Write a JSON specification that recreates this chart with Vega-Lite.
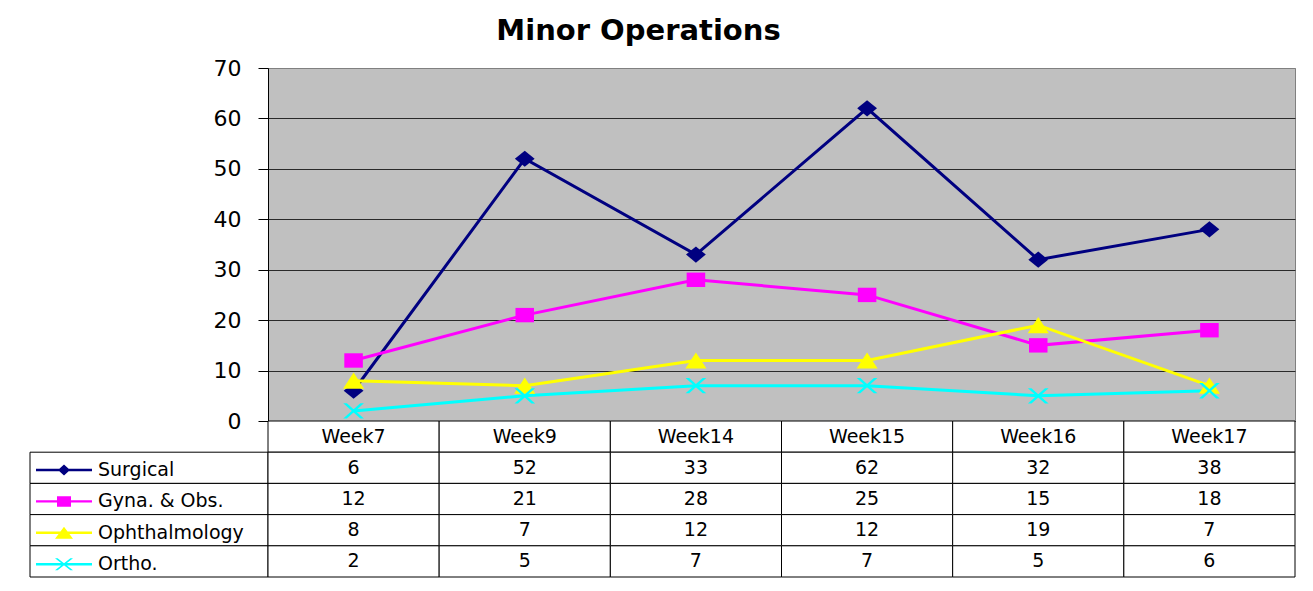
{
  "$schema": "https://vega.github.io/schema/vega-lite/v6.json",
  "padding": {"left": 29, "top": 16, "right": 19, "bottom": 14},
  "config": {
    "font": "DejaVu Sans",
    "view": {"stroke": null},
    "text": {"font": "DejaVu Sans", "color": "black"}
  },
  "title": {
    "text": "Minor Operations",
    "font": "DejaVu Sans",
    "fontSize": 29,
    "fontWeight": "bold",
    "color": "black",
    "anchor": "middle",
    "dx": -24,
    "offset": -18,
    "baseline": "bottom"
  },
  "datasets": {
    "ops": [
      {"series": "Surgical", "week": "Week7", "value": 6},
      {"series": "Surgical", "week": "Week9", "value": 52},
      {"series": "Surgical", "week": "Week14", "value": 33},
      {"series": "Surgical", "week": "Week15", "value": 62},
      {"series": "Surgical", "week": "Week16", "value": 32},
      {"series": "Surgical", "week": "Week17", "value": 38},
      {"series": "Gyna. & Obs.", "week": "Week7", "value": 12},
      {"series": "Gyna. & Obs.", "week": "Week9", "value": 21},
      {"series": "Gyna. & Obs.", "week": "Week14", "value": 28},
      {"series": "Gyna. & Obs.", "week": "Week15", "value": 25},
      {"series": "Gyna. & Obs.", "week": "Week16", "value": 15},
      {"series": "Gyna. & Obs.", "week": "Week17", "value": 18},
      {"series": "Ophthalmology", "week": "Week7", "value": 8},
      {"series": "Ophthalmology", "week": "Week9", "value": 7},
      {"series": "Ophthalmology", "week": "Week14", "value": 12},
      {"series": "Ophthalmology", "week": "Week15", "value": 12},
      {"series": "Ophthalmology", "week": "Week16", "value": 19},
      {"series": "Ophthalmology", "week": "Week17", "value": 7},
      {"series": "Ortho.", "week": "Week7", "value": 2},
      {"series": "Ortho.", "week": "Week9", "value": 5},
      {"series": "Ortho.", "week": "Week14", "value": 7},
      {"series": "Ortho.", "week": "Week15", "value": 7},
      {"series": "Ortho.", "week": "Week16", "value": 5},
      {"series": "Ortho.", "week": "Week17", "value": 6}
    ]
  },
  "columns": 2,
  "spacing": 0,
  "bounds": "flush",
  "resolve": {
    "scale": {"x": "independent", "y": "independent", "color": "independent", "shape": "independent"},
    "legend": {"color": "independent", "shape": "independent"}
  },
  "concat": [
    {
      "width": 238,
      "height": 353,
      "data": {"values": [{}]},
      "mark": {"type": "text"},
      "encoding": {"text": {"value": ""}}
    },
    {
      "width": 1027,
      "height": 353,
      "data": {"name": "ops"},
      "view": {"fill": "#C0C0C0", "stroke": "#808080"},
      "encoding": {
        "x": {
          "field": "week", "type": "nominal",
          "sort": ["Week7", "Week9", "Week14", "Week15", "Week16", "Week17"],
          "scale": {"type": "point", "padding": 0.5},
          "axis": null
        },
        "y": {
          "field": "value", "type": "quantitative",
          "scale": {"domain": [0, 70], "nice": false},
          "axis": {
            "title": null,
            "values": [0, 10, 20, 30, 40, 50, 60, 70],
            "tickSize": 10,
            "tickColor": "black",
            "domainColor": "black",
            "labelFont": "DejaVu Sans",
            "labelFontSize": 22,
            "labelColor": "black",
            "labelPadding": 17,
            "grid": true,
            "gridColor": {"condition": {"test": "datum.value == 70", "value": "#808080"}, "value": "#2a2a2a"},
            "gridOpacity": 1
          }
        },
        "color": {
          "field": "series", "type": "nominal",
          "scale": {
            "domain": ["Surgical", "Gyna. & Obs.", "Ophthalmology", "Ortho."],
            "range": ["#000080", "#FF00FF", "#FFFF00", "#00FFFF"]
          },
          "legend": null
        }
      },
      "layer": [
        {"mark": {"type": "line", "strokeWidth": 3}},
        {
          "mark": {"type": "point", "filled": true, "opacity": 1, "size": 324, "strokeWidth": 0},
          "encoding": {
            "shape": {
              "field": "series", "type": "nominal",
              "scale": {
                "domain": ["Surgical", "Gyna. & Obs.", "Ophthalmology", "Ortho."],
                "range": [
                  "M-1.1,0L0,-0.9L1.1,0L0,0.9Z",
                  "M-1.03,-0.8L1.03,-0.8L1.03,0.8L-1.03,0.8Z",
                  "M0,-0.9L1.17,0.9L-1.17,0.9Z",
                  "M-1.15,-0.85L-0.75,-0.85L1.15,0.85L0.75,0.85Z M0.75,-0.85L1.15,-0.85L-0.75,0.85L-1.15,0.85Z"
                ]
              },
              "legend": null
            }
          }
        }
      ]
    },
    {
      "width": 238,
      "height": 156,
      "data": {"name": "ops"},
      "layer": [
        {
          "transform": [{"filter": "datum.week == 'Week7'"}],
          "mark": {"type": "rect", "fill": "white", "stroke": "black", "strokeWidth": 1},
          "encoding": {
            "y": {
              "field": "series", "type": "nominal",
              "scale": {"domain": ["hdr", "Surgical", "Gyna. & Obs.", "Ophthalmology", "Ortho."], "paddingInner": 0, "paddingOuter": 0},
              "axis": null
            }
          }
        },
        {
          "transform": [{"filter": "datum.value < 0"}],
          "mark": {"type": "point", "filled": true, "opacity": 1},
          "encoding": {
            "y": {"field": "series", "type": "nominal"},
            "color": {
              "field": "series", "type": "nominal",
              "scale": {
                "domain": ["Surgical", "Gyna. & Obs.", "Ophthalmology", "Ortho."],
                "range": ["#000080", "#FF00FF", "#FFFF00", "#00FFFF"]
              },
              "legend": {
                "title": null,
                "orient": "none",
                "legendX": 24.5,
                "legendY": 39.5,
                "padding": 0,
                "symbolSize": 225,
                "symbolStrokeWidth": 0,
                "symbolOpacity": 1,
                "rowPadding": 11.4,
                "labelFont": "DejaVu Sans",
                "labelFontSize": 19,
                "labelColor": "black",
                "labelOffset": 24.5,
                "labelLimit": 300
              }
            },
            "shape": {
              "field": "series", "type": "nominal",
              "scale": {
                "domain": ["Surgical", "Gyna. & Obs.", "Ophthalmology", "Ortho."],
                "range": [
                  "M-3.733,-0.16L3.733,-0.16L3.733,0.16L-3.733,0.16Z M-0.8,0L0,-0.733L0.8,0L0,0.733Z",
                  "M-3.733,-0.16L3.733,-0.16L3.733,0.16L-3.733,0.16Z M-0.933,-0.7L0.933,-0.7L0.933,0.7L-0.933,0.7Z",
                  "M-3.733,-0.16L3.733,-0.16L3.733,0.16L-3.733,0.16Z M0,-0.8L1.2,0.8L-1.2,0.8Z",
                  "M-3.733,-0.16L3.733,-0.16L3.733,0.16L-3.733,0.16Z M-1.2,-0.8L-0.85,-0.8L1.2,0.8L0.85,0.8Z M0.85,-0.8L1.2,-0.8L-0.85,0.8L-1.2,0.8Z"
                ]
              }
            }
          }
        }
      ]
    },
    {
      "width": 1027,
      "height": 156,
      "data": {"name": "ops"},
      "encoding": {
        "x": {
          "field": "week", "type": "nominal",
          "sort": ["Week7", "Week9", "Week14", "Week15", "Week16", "Week17"],
          "scale": {"type": "band", "paddingInner": 0, "paddingOuter": 0},
          "axis": null
        }
      },
      "layer": [
        {
          "transform": [{"filter": "datum.series == 'Surgical'"}],
          "mark": {"type": "rect", "fill": "white", "stroke": "black", "strokeWidth": 1},
          "encoding": {
            "y": {
              "datum": "hdr", "type": "nominal",
              "scale": {"domain": ["hdr", "Surgical", "Gyna. & Obs.", "Ophthalmology", "Ortho."], "paddingInner": 0, "paddingOuter": 0},
              "axis": null
            }
          }
        },
        {
          "mark": {"type": "rect", "fill": "white", "stroke": "black", "strokeWidth": 1},
          "encoding": {"y": {"field": "series", "type": "nominal"}}
        },
        {
          "transform": [{"filter": "datum.series == 'Surgical'"}],
          "mark": {"type": "text", "fontSize": 19, "baseline": "middle"},
          "encoding": {
            "y": {"datum": "hdr", "type": "nominal"},
            "text": {"field": "week"}
          }
        },
        {
          "mark": {"type": "text", "fontSize": 19, "baseline": "middle"},
          "encoding": {
            "y": {"field": "series", "type": "nominal"},
            "text": {"field": "value", "type": "quantitative"}
          }
        }
      ]
    }
  ]
}
